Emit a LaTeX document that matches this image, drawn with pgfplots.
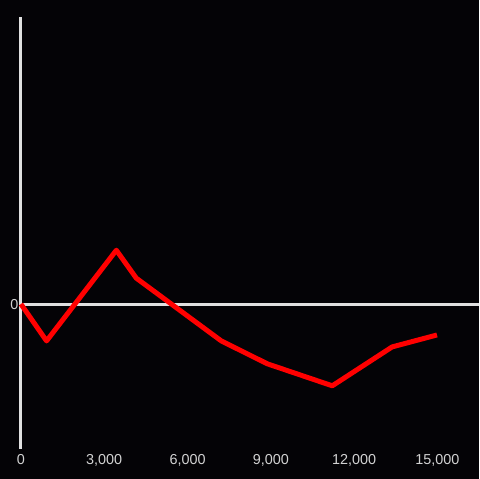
\documentclass[border=0pt]{standalone}
\usepackage{pgfplots}
\pgfplotsset{compat=1.18}
\usepackage{fontspec}
\setmainfont{Liberation Sans}
\definecolor{bg}{RGB}{4,3,6}
\definecolor{axisgray}{RGB}{224,224,224}
\definecolor{labelgray}{RGB}{210,210,210}
\definecolor{linered}{RGB}{255,0,0}
\begin{document}
\begin{tikzpicture}
\fill[bg] (0,0) rectangle (480bp,480bp);
\begin{axis}[
  at={(21bp,30bp)}, anchor=south west,
  scale only axis, width=459bp, height=433bp,
  xmin=0, xmax=16480, ymin=-145, ymax=288,
  axis line style={draw=none},
  tick style={draw=none},
  xtick={0,3000,6000,9000,12000,15000},
  ytick={0},
  ticklabel style={font=\fontsize{14.5}{16}\selectfont, text=labelgray},
  xticklabel style={yshift=-2bp},
  yticklabel style={xshift=1bp},
  /pgf/number format/assume math mode=true,
  /pgf/number format/1000 sep={,},
  scaled x ticks=false,
  clip=false,
]
  % axis lines
  \addplot[axisgray, line width=3pt] coordinates {(0,-145) (0,288)};
  \addplot[axisgray, line width=3pt] coordinates {(0,0) (16480,0)};
  % series
  \addplot[linered, line width=5pt, line join=round, line cap=butt] coordinates {
    (0,0) (923,-37) (3436,54) (4154,26) (7217,-37) (8880,-60)
    (11214,-82) (13368,-43) (14984,-31)
  };
\end{axis}
\end{tikzpicture}
\end{document}
